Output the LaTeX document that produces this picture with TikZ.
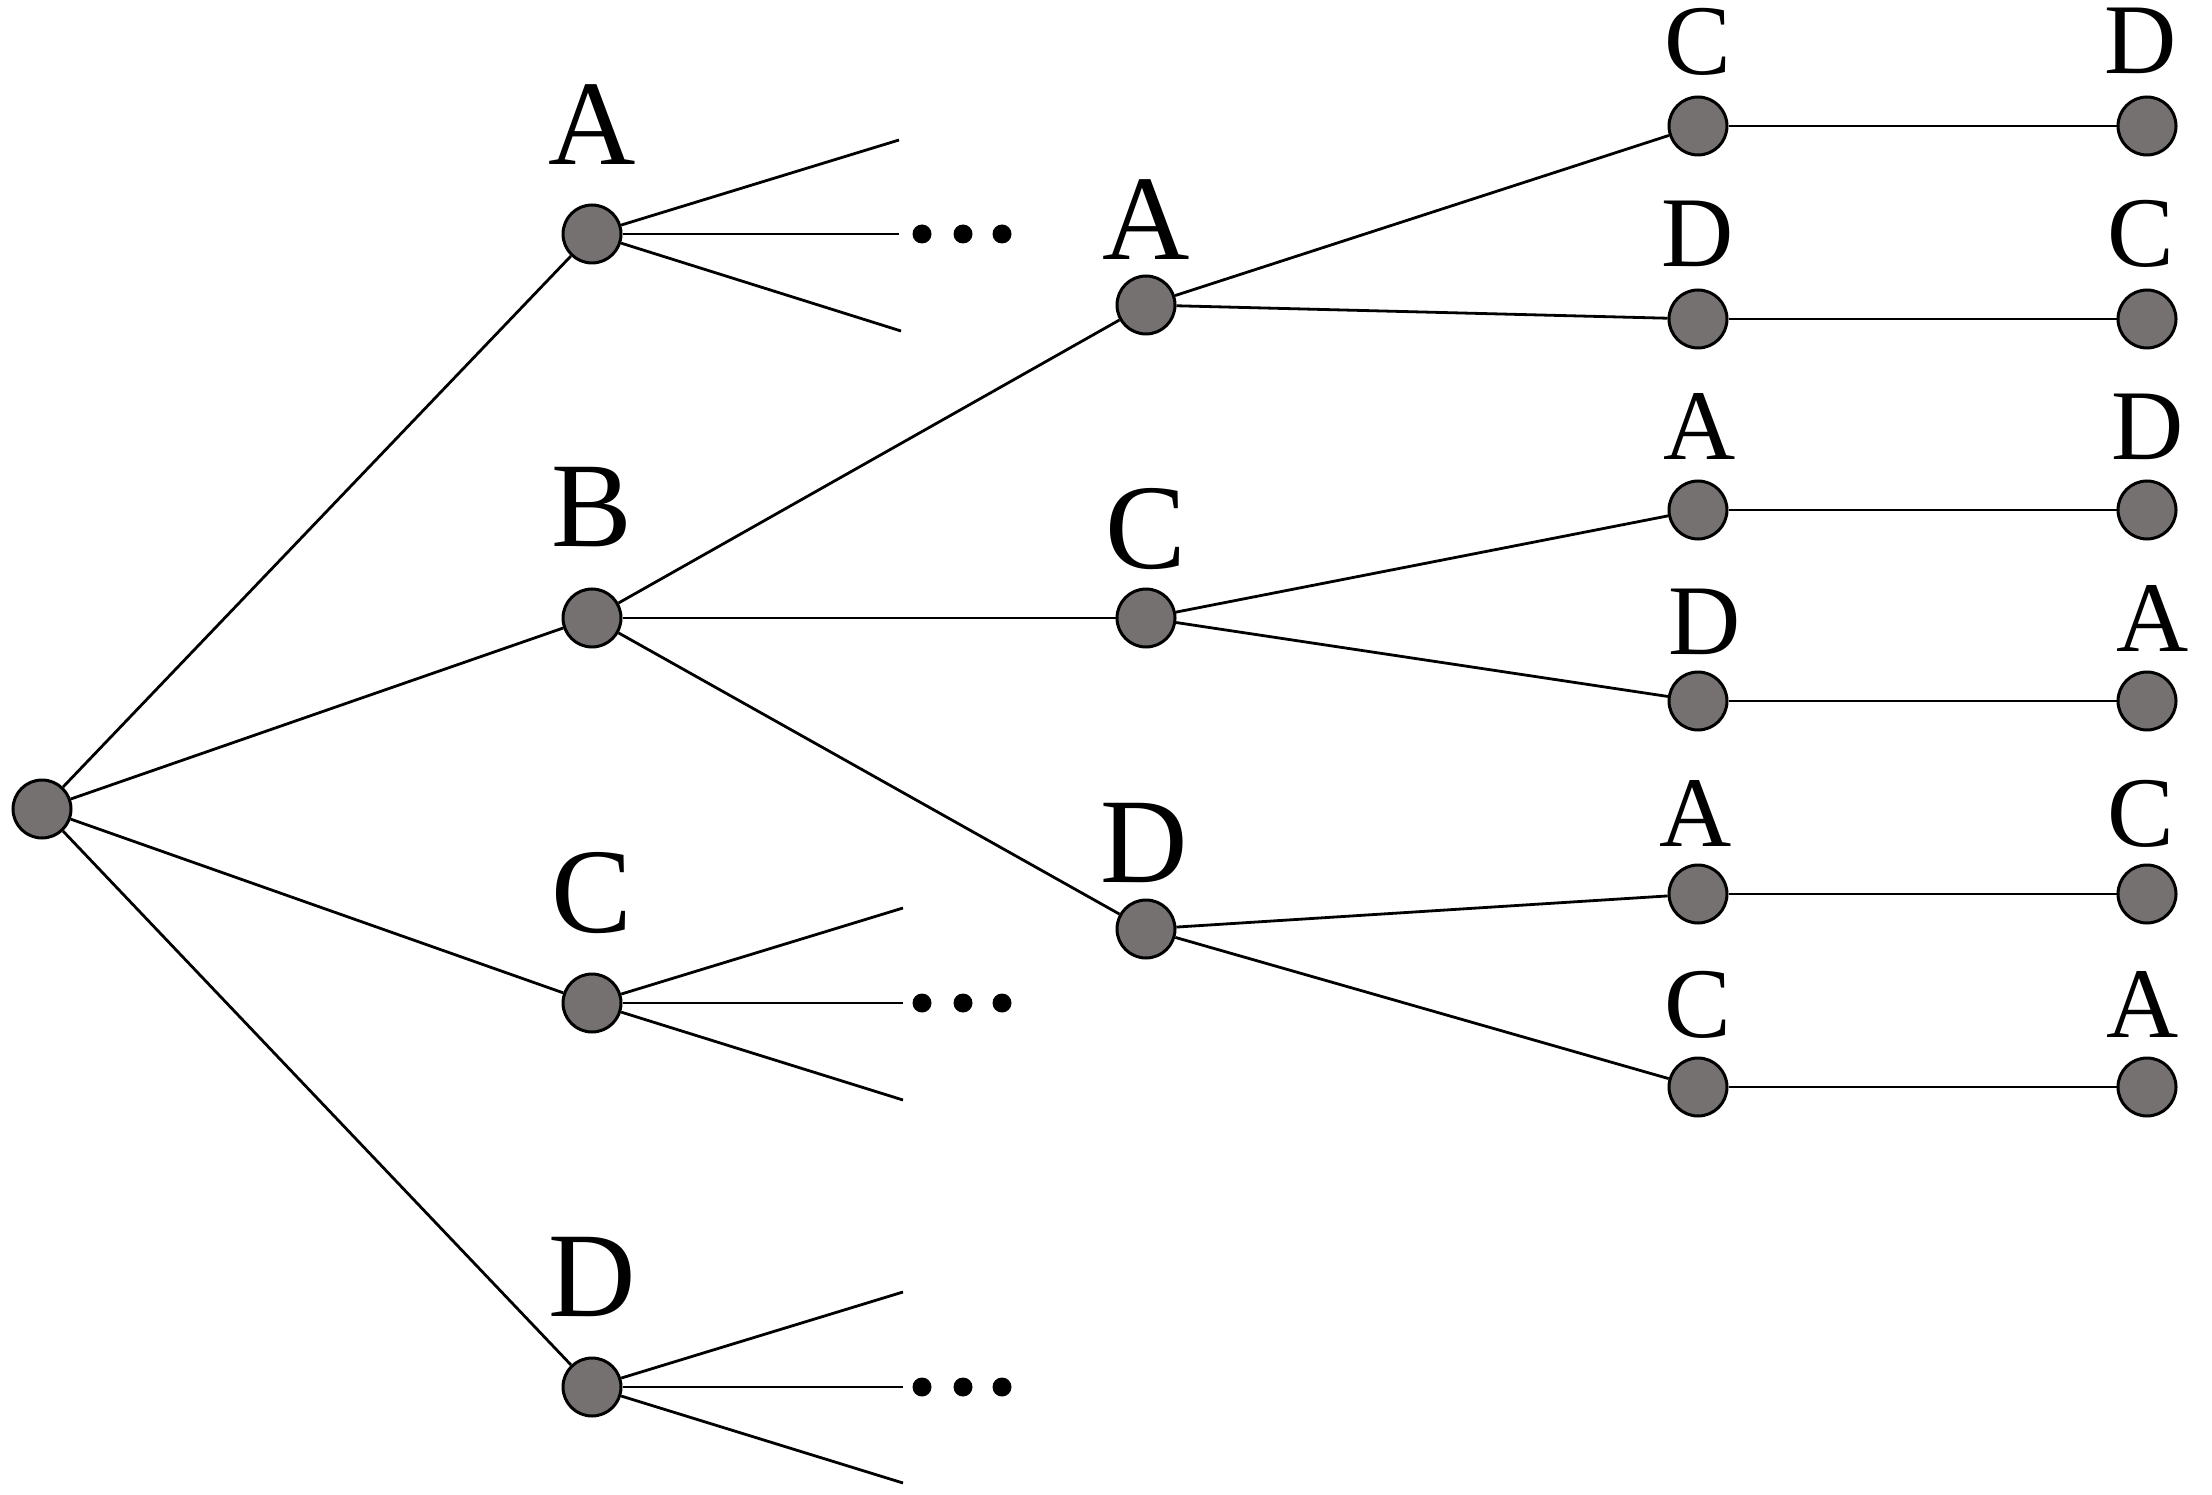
\documentclass[tikz,border=0pt]{standalone}
\usepackage{fontspec}
\setmainfont{Liberation Serif}
\definecolor{nodegray}{RGB}{118,113,113}
\begin{document}
\begin{tikzpicture}[x=1pt,y=-1pt,
  dot/.style={circle,draw=black,line width=3pt,fill=nodegray,minimum size=58pt,inner sep=0pt},
  edge/.style={line width=2.8pt,black},
  bigl/.style={anchor=base,inner sep=0pt,font=\fontsize{121}{121}\selectfont},
  smalll/.style={anchor=base,inner sep=0pt,font=\fontsize{100}{100}\selectfont},
  ell/.style={circle,fill=black,minimum size=19pt,inner sep=0pt}]
\useasboundingbox (0,0) rectangle (2212,1495);
% root
\node[dot] (r) at (42,809) {};
% level 1
\node[dot] (a1) at (592,234) {};
\node[dot] (b1) at (592,618) {};
\node[dot] (c1) at (592,1003) {};
\node[dot] (d1) at (592,1387) {};
\node[bigl] (la1) at (592,165) {A};
\node[bigl] (lb1) at (592,546) {B};
\node[bigl] (lc1) at (592,932) {C};
\node[bigl] (ld1) at (592,1316) {D};
% level 2
\node[dot] (a2) at (1146,305) {};
\node[dot] (c2) at (1146,618) {};
\node[dot] (d2) at (1146,929) {};
\node[bigl] (la2) at (1146,260) {A};
\node[bigl] (lc2) at (1146,568) {C};
\node[bigl] (ld2) at (1144,882) {D};
% level 3
\node[dot] (t1) at (1698,126) {};
\node[dot] (t2) at (1698,319) {};
\node[dot] (t3) at (1698,510) {};
\node[dot] (t4) at (1698,701) {};
\node[dot] (t5) at (1698,894) {};
\node[dot] (t6) at (1698,1087) {};
\node[smalll] (lt1) at (1698,75) {C};
\node[smalll] (lt2) at (1698,267) {D};
\node[smalll] (lt3) at (1700,460) {A};
\node[smalll] (lt4) at (1705,654) {D};
\node[smalll] (lt5) at (1696,846) {A};
\node[smalll] (lt6) at (1698,1037) {C};
% level 4
\node[dot] (f1) at (2147,126) {};
\node[dot] (f2) at (2147,319) {};
\node[dot] (f3) at (2147,510) {};
\node[dot] (f4) at (2147,701) {};
\node[dot] (f5) at (2147,894) {};
\node[dot] (f6) at (2147,1087) {};
\node[smalll] (lf1) at (2141,74) {D};
\node[smalll] (lf2) at (2141,267) {C};
\node[smalll] (lf3) at (2148,460) {D};
\node[smalll] (lf4) at (2153,651) {A};
\node[smalll] (lf5) at (2141,846) {C};
\node[smalll] (lf6) at (2143,1037) {A};
% fan free ends
\coordinate (a1t) at (899,140);
\coordinate (a1m) at (899,234);
\coordinate (a1b) at (901,331);
\coordinate (c1t) at (903,908);
\coordinate (c1m) at (903,1003);
\coordinate (c1b) at (903,1100);
\coordinate (d1t) at (903,1292);
\coordinate (d1m) at (903,1387);
\coordinate (d1b) at (903,1483);
% ellipsis dots
\foreach \n/\x in {1/922,2/963,3/1002}{
  \node[ell] (ea\n) at (\x,234) {};
  \node[ell] (ec\n) at (\x,1003) {};
  \node[ell] (ed\n) at (\x,1387) {};
}
% edges
\draw[edge] (r) -- (a1);
\draw[edge] (r) -- (b1);
\draw[edge] (r) -- (c1);
\draw[edge] (r) -- (d1);
\foreach \s in {a1,c1,d1}{
  \draw[edge] (\s) -- (\s t);
  \draw[edge] (\s) -- (\s m);
  \draw[edge] (\s) -- (\s b);
}
\draw[edge] (b1) -- (a2);
\draw[edge] (b1) -- (c2);
\draw[edge] (b1) -- (d2);
\draw[edge] (a2) -- (t1);
\draw[edge] (a2) -- (t2);
\draw[edge] (c2) -- (t3);
\draw[edge] (c2) -- (t4);
\draw[edge] (d2) -- (t5);
\draw[edge] (d2) -- (t6);
\foreach \i in {1,...,6}{
  \draw[edge] (t\i) -- (f\i);
}
\end{tikzpicture}
\end{document}
